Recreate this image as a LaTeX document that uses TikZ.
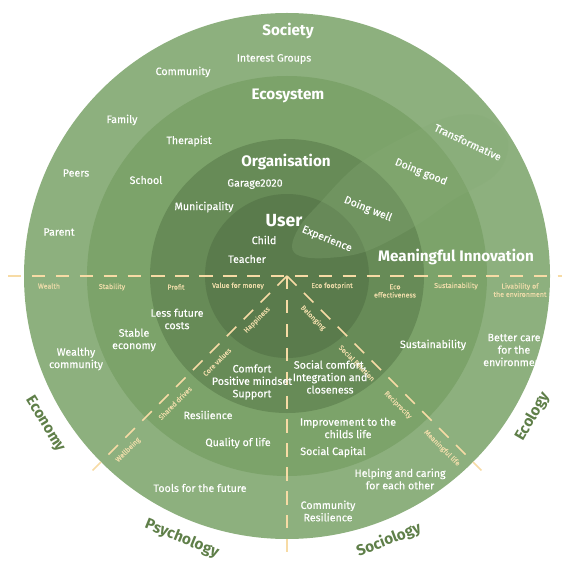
\documentclass[tikz,border=0pt]{standalone}
\usepackage{fontspec}
\setmainfont{Fira Sans}
\newfontfamily\medfont{Fira Sans}[FakeBold=0.35]
\usetikzlibrary{calc}
\definecolor{ringA}{HTML}{8DB07E}
\definecolor{ringB}{HTML}{7CA36A}
\definecolor{ringC}{HTML}{678B57}
\definecolor{ringD}{HTML}{5A7B4C}
\definecolor{veil}{HTML}{86AA76}
\definecolor{linecream}{HTML}{F7DBA5}
\definecolor{tagcream}{HTML}{EEDCAA}
\definecolor{sidegreen}{HTML}{5F7F49}
\begin{document}
\begin{tikzpicture}[x=0.03cm, y=-0.03cm, line join=round,
	lbl/.style={text=white, font=\medfont\fontsize{9.1}{10.6}\selectfont, align=center, inner sep=0pt},
	head/.style={text=white, font=\fontsize{13}{15}\selectfont\bfseries, inner sep=0pt},
	tag/.style={text=tagcream, font=\medfont\fontsize{6}{7}\selectfont, align=center, inner sep=0pt},
	side/.style={text=sidegreen, font=\fontsize{13}{15}\selectfont\bfseries, inner sep=0pt},
	axis/.style={draw=linecream, line width=1.3pt, dash pattern=on 11.5pt off 8.9pt, line cap=butt}]
	\useasboundingbox (0,0) rectangle (567,567);
	\path
	(287,276) coordinate (O)
	(8,276) coordinate (W)
	(562,276) coordinate (E)
	;
	% rings
	\fill[ringA] (O) circle[radius=263];
	\fill[ringB] (O) circle[radius=200];
	\fill[ringC] (O) circle[radius=137];
	\fill[ringD] (O) circle[radius=82];
	% meaningful innovation
	\fill[veil, opacity=0.3] plot[smooth cycle, tension=0.6] coordinates {(292,246) (300,226) (317,206) (360,163) (420,129) (453,116) (482,116) (503,131) (508,150) (494,176) (453,200) (417,225) (367,251) (327,258) (300,256)};
	% axes
	\draw[axis] (W) -- (E);
	\draw[axis] (O) -- ++(90:277) coordinate (S);
	\draw[axis] (O) -- ++(45:275) coordinate (SE);
	\draw[axis] (O) -- ++(135:275) coordinate (SW);
	% circles of stakeholders
	\node[head] (society) at (288,31) {Society};
	\node[lbl] (interest) at (274,59) {Interest Groups};
	\node[lbl] (community) at (183,72) {Community};
	\node[head] (ecosystem) at (288,96) {Ecosystem};
	\node[lbl] (family) at (122,120) {Family};
	\node[lbl] (therapist) at (189,141) {Therapist};
	\node[lbl] (peers) at (76,173) {Peers};
	\node[lbl] (school) at (146,180) {School};
	\node[head] (organisation) at (286,162) {Organisation};
	\node[lbl] (garage) at (255,184) {Garage2020};
	\node[lbl] (municipality) at (204,207) {Municipality};
	\node[lbl] (parent) at (59,232) {Parent};
	\node[head, font=\fontsize{15}{17}\selectfont\bfseries] (user) at (284,221) {User};
	\node[lbl] (child) at (264,240) {Child};
	\node[lbl] (teacher) at (247,259) {Teacher};
	\node[lbl, rotate=-22] (experience) at (327,239) {Experience};
	\node[lbl, rotate=-22] (well) at (368,209) {Doing well};
	\node[lbl, rotate=-22] (good) at (421,172) {Doing good};
	\node[lbl, rotate=-25] (transform) at (468,142) {Transformative};
	\node[head] (innovation) at (456,257) {Meaningful Innovation};
	% values on the axis
	\node[tag] (wealth) at (49,286) {Wealth};
	\node[tag] (stability) at (112,287) {Stability};
	\node[tag] (profit) at (176,287) {Profit};
	\node[tag] (value) at (238,286) {Value for money};
	\node[tag] (footprint) at (332,286) {Eco footprint};
	\node[tag] (ecoeff) at (395,291) {Eco\\effectiveness};
	\node[tag] (sustain) at (456,286) {Sustainability};
	\node[tag] (livability) at (520,290) {Livability of\\the environment};
	\node[tag, rotate=45] (happiness) at (257,320) {Happiness};
	\node[tag, rotate=45] (core) at (217,362) {Core values};
	\node[tag, rotate=45] (shared) at (175,403) {Shared drives};
	\node[tag, rotate=45] (wellbeing) at (128,450) {Wellbeing};
	\node[tag, rotate=-45] (belonging) at (313,318) {Belonging};
	\node[tag, rotate=-45] (relation) at (357,363) {Social Relation};
	\node[tag, rotate=-45] (reciprocity) at (398,405) {Reciprocity};
	\node[tag, rotate=-45] (meaning) at (442,448) {Meaningful life};
	% outcomes
	\node[lbl] (costs) at (177,319) {Less future\\costs};
	\node[lbl] (stable) at (134,340) {Stable\\economy};
	\node[lbl] (wealthy) at (76,359) {Wealthy\\community};
	\node[lbl] (comfort) at (252,382) {Comfort\\Positive mindset\\Support};
	\node[lbl] (social) at (330,377) {Social comfort,\\Integration and\\closeness};
	\node[lbl] (sustainability) at (433,345) {Sustainability};
	\node[lbl] (care) at (514,350) {Better care\\for the\\environment};
	\node[lbl] (resilience) at (208,415) {Resilience};
	\node[lbl] (quality) at (238,443) {Quality of life};
	\node[lbl] (tools) at (200,488) {Tools for the future};
	\node[lbl] (improve) at (348,428) {Improvement to the\\childs life};
	\node[lbl] (capital) at (333,452) {Social Capital};
	\node[lbl] (helping) at (400,479) {Helping and caring\\for each other};
	\node[lbl] (commres) at (328,511) {Community\\Resilience};
	% disciplines
	\node[side, rotate=-58.5] (economy) at ($(O)+(148.5:284)$) {Economy};
	\node[side, rotate=-22] (psychology) at ($(O)+(111.8:283)$) {Psychology};
	\node[side, rotate=21] (sociology) at ($(O)+(68.9:283)$) {Sociology};
	\node[side, rotate=60] (ecology) at ($(O)+(29.8:283)$) {Ecology};
\end{tikzpicture}
\end{document}
